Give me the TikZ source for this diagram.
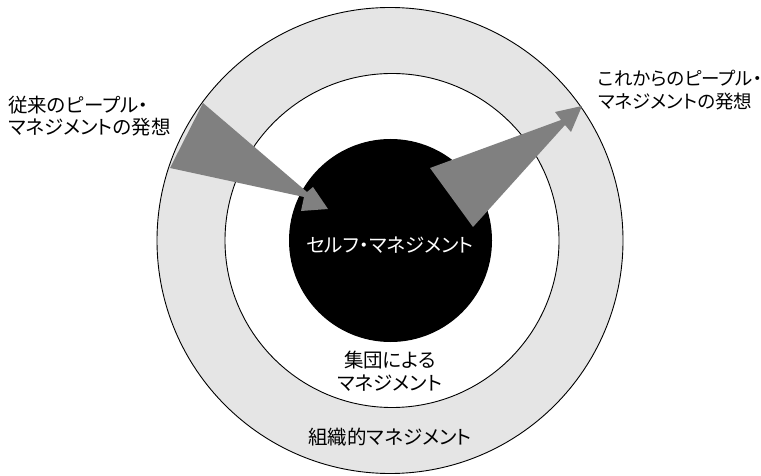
\documentclass[tikz,border=0pt]{standalone}
\usepackage{fontspec}
\setmainfont[RawFeature=+palt]{Noto Sans CJK JP}
\definecolor{ringgray}{HTML}{E5E5E5}
\definecolor{arrowgray}{HTML}{808080}
\tikzset{
  ring/.style={circle, draw=black, line width=0.9bp, inner sep=0pt},
  lbl/.style={inner sep=0pt, font=\fontsize{19.5bp}{22.5bp}\selectfont},
  sidelbl/.style={inner sep=0pt, font=\fontsize{18.5bp}{22.5bp}\selectfont},
  wedge/.style={fill=arrowgray, draw=none}
}
\begin{document}
\begin{tikzpicture}[x=1bp,y=-1bp]
\useasboundingbox (0,0) rectangle (761,476);
\node[ring, fill=ringgray, minimum size=466bp] (outer) at (390,240.5) {};
\node[ring, fill=white, minimum size=334bp] (middle) at (392,240.5) {};
\node[circle, fill=black, inner sep=0pt, minimum size=203bp] (self) at (390.5,240.5) {};
% left arrow
\fill[wedge] (203,103) -- (307,192) -- (313,187) -- (328,209) -- (301,211) -- (304,197) -- (170,168) -- cycle;
% right arrow
\fill[wedge] (430,168) -- (561,120) -- (555,112) -- (582,106) -- (571,132) -- (565,125) -- (473,227) -- cycle;
\node[lbl, text=white] (selft) at (390,245) {セルフ・マネジメント};
\node[lbl, align=center] (group) at (390,371) {集団による\\マネジメント};
\node[lbl] (org) at (390,437) {組織的マネジメント};
\node[lbl, anchor=west, align=left] (old) at (8,116) {従来のピープル・\\マネジメントの発想};
\node[sidelbl, anchor=west, align=left] (new) at (598,90) {これからのピープル・\\マネジメントの発想};
\end{tikzpicture}
\end{document}
